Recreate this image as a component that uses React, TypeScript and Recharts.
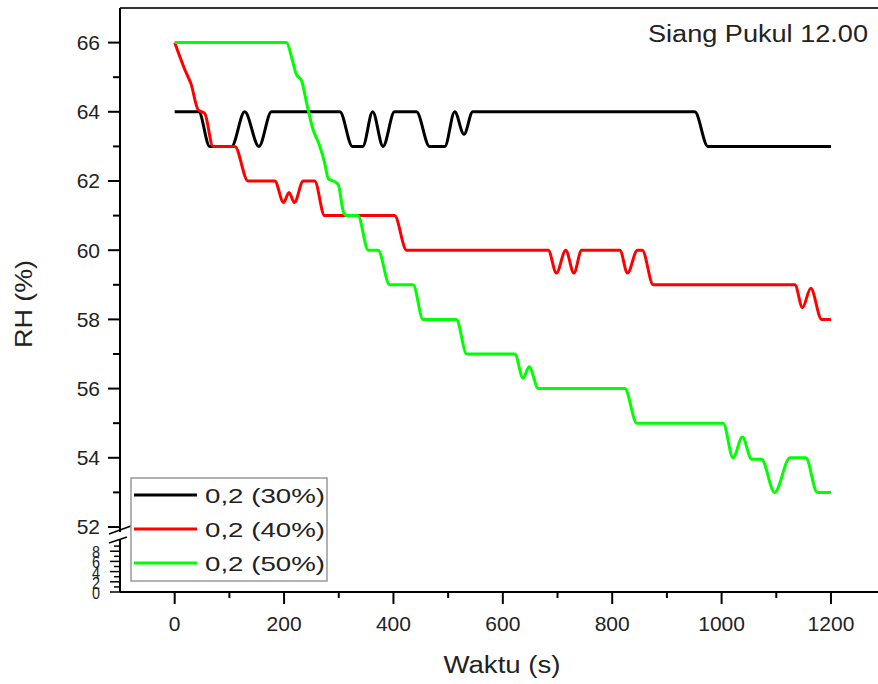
import React from 'react';
import { LineChart, Line, XAxis, YAxis, ReferenceLine } from 'recharts';

// ---- data ----
const time30 = [0, 44, 64, 104, 128, 154, 177, 302, 325, 344, 362, 381, 402, 442, 466, 494, 512, 529, 545, 951, 975, 1200];
const rh30 = [64, 64, 63, 63, 64, 63, 64, 64, 63, 63, 64, 63, 64, 64, 63, 63, 64, 63.35, 64, 64, 63, 63];

const time40 = [0, 19, 30, 43, 55, 70, 110, 134, 183, 199, 209, 219, 235, 256, 274, 402, 424, 683, 698, 715, 730, 744, 814, 828, 846, 855, 875, 1134, 1148, 1163, 1183, 1200];
const rh40 = [66, 65.2, 64.8, 64.05, 63.95, 63, 63, 62, 62, 61.38, 61.67, 61.38, 62, 62, 61, 61, 60, 60, 59.34, 60, 59.34, 60, 60, 59.34, 60, 60, 59, 59, 58.34, 58.9, 58, 58];

const time50 = [0, 204, 216, 222, 232, 241, 253, 265, 274, 281, 290, 299, 308, 314, 335, 354, 372, 393, 436, 454, 515, 534, 622, 637, 648, 665, 823, 845, 1003, 1021, 1038, 1055, 1073, 1097, 1125, 1154, 1175, 1200];
const rh50 = [66, 66, 65.44, 65.1, 64.9, 64.27, 63.49, 63.02, 62.54, 62.06, 62, 61.9, 61.14, 61, 61, 60, 60, 59, 59, 58, 58, 57, 57, 56.3, 56.63, 56, 56, 55, 55, 54, 54.6, 53.96, 53.96, 53, 54, 54, 53, 53];

const seriesNames = ['0,2 (30%)', '0,2 (40%)', '0,2 (50%)'];
const seriesColors = ['#000000', '#ff0000', '#00ff00'];

const xTicks = [-100, 0, 100, 200, 300, 400, 500, 600, 700, 800, 900, 1000, 1100, 1200];
const yUpperTicks = [52, 53, 54, 55, 56, 57, 58, 59, 60, 61, 62, 63, 64, 65, 66];
const yLowerTicks = [0, 1, 2, 3, 4, 5, 6, 7, 8, 9];

const titleText = 'Siang Pukul 12.00';
const xLabel = 'Waktu (s)';
const yLabel = 'RH (%)';

// broken-axis mapping for the compressed lower segment (0..9)
const LOW_BASE = 50.121;
const LOW_STEP = 0.1474;
const toFake = (v: number) => LOW_BASE + v * LOW_STEP;

const toRows = (ts: number[], vs: number[]) => ts.map((t, i) => ({ t, rh: vs[i] }));
const data30 = toRows(time30, rh30);
const data40 = toRows(time40, rh40);
const data50 = toRows(time50, rh50);

const yTicks = [...yLowerTicks.map(toFake), ...yUpperTicks];

const FONT = '"Liberation Sans", Arial, sans-serif';
const TXT = '#222';

const XTick = (props: any) => {
  const { x, y, payload } = props;
  const v = payload.value;
  if (v < 0) return <g />;
  const major = v % 200 === 0;
  return (
    <g>
      <line x1={x} x2={x} y1={y} y2={y + (major ? 12 : 6)} stroke="#000" strokeWidth={2} />
      {major && (
        <text x={x} y={y + 38.5} textAnchor="middle" fontSize={21} fontFamily={FONT} fill={TXT}>
          {v}
        </text>
      )}
    </g>
  );
};

const YTick = (props: any) => {
  const { x, y, payload } = props;
  const v = payload.value;
  if (v >= 51.99) {
    const n = Math.round(v);
    const major = n % 2 === 0;
    return (
      <g>
        <line x1={x - (major ? 12 : 7)} x2={x} y1={y} y2={y} stroke="#000" strokeWidth={2} />
        {major && (
          <text x={x - 20} y={y + 7.5} textAnchor="end" fontSize={21} fontFamily={FONT} fill={TXT}>
            {n}
          </text>
        )}
      </g>
    );
  }
  const idx = Math.round((v - LOW_BASE) / LOW_STEP);
  const major = idx % 2 === 0;
  return (
    <g>
      <line x1={x - (major ? 10 : 6)} x2={x} y1={y} y2={y} stroke="#000" strokeWidth={1.5} />
      {major && (
        <text x={x - 20} y={y + 7} textAnchor="end" fontSize={16} fontFamily={FONT} fill={TXT} textLength={8} lengthAdjust="spacingAndGlyphs">
          {idx}
        </text>
      )}
    </g>
  );
};

const legendRows = [495, 529, 563];

export default function App() {
  return (
    <div style={{ position: 'absolute', left: 0, top: 0, width: 878, height: 684, background: '#fff' }}>
      <LineChart width={878} height={684} margin={{ top: 8, right: 0, bottom: 32, left: 60 }}>
        <XAxis
          dataKey="t"
          type="number"
          domain={[-100, 1286]}
          allowDataOverflow
          ticks={xTicks}
          interval={0}
          tickSize={0}
          tickMargin={0}
          tickLine={false}
          axisLine={{ stroke: '#000', strokeWidth: 2 }}
          tick={<XTick />}
          height={60}
        />
        <YAxis
          type="number"
          domain={[LOW_BASE, 67]}
          allowDataOverflow
          ticks={yTicks}
          interval={0}
          tickSize={0}
          tickMargin={0}
          tickLine={false}
          axisLine={{ stroke: '#000', strokeWidth: 2 }}
          tick={<YTick />}
          width={60}
        />
        <ReferenceLine y={67} stroke="#333" strokeWidth={2} ifOverflow="visible" />
        <Line data={data30} dataKey="rh" name={seriesNames[0]} type="monotone" stroke={seriesColors[0]} strokeWidth={3} dot={false} isAnimationActive={false} />
        <Line data={data40} dataKey="rh" name={seriesNames[1]} type="monotone" stroke={seriesColors[1]} strokeWidth={3} dot={false} isAnimationActive={false} />
        <Line data={data50} dataKey="rh" name={seriesNames[2]} type="monotone" stroke={seriesColors[2]} strokeWidth={3} dot={false} isAnimationActive={false} />
      </LineChart>
      <svg width={878} height={684} style={{ position: 'absolute', left: 0, top: 0, pointerEvents: 'none' }}>
        {/* axis break */}
        <line x1={120} x2={120} y1={532} y2={540} stroke="#fff" strokeWidth={5} />
        <line x1={109} y1={534} x2={131} y2={526} stroke="#000" strokeWidth={1.6} />
        <line x1={109} y1={543} x2={127} y2={537} stroke="#000" strokeWidth={1.6} />
        {/* title */}
        <text x={648} y={42} fontSize={23} fontFamily={FONT} fill={TXT} textLength={220} lengthAdjust="spacingAndGlyphs">
          {titleText}
        </text>
        {/* axis titles */}
        <text x={502} y={673} textAnchor="middle" fontSize={23} fontFamily={FONT} fill={TXT} textLength={117} lengthAdjust="spacingAndGlyphs">
          {xLabel}
        </text>
        <text x={32} y={304} textAnchor="middle" fontSize={24} fontFamily={FONT} fill={TXT} transform="rotate(-90 32 304)" textLength={88} lengthAdjust="spacingAndGlyphs">
          {yLabel}
        </text>
        {/* legend */}
        <rect x={131} y={478} width={196} height={103} fill="#fff" stroke="#999" strokeWidth={1.5} />
        {legendRows.map((ly, i) => (
          <g key={i}>
            <line x1={134} x2={197} y1={ly} y2={ly} stroke={seriesColors[i]} strokeWidth={3} />
            <text x={205} y={ly + 7.5} fontSize={21} fontFamily={FONT} fill={TXT} textLength={120} lengthAdjust="spacingAndGlyphs">
              {seriesNames[i]}
            </text>
          </g>
        ))}
      </svg>
    </div>
  );
}
